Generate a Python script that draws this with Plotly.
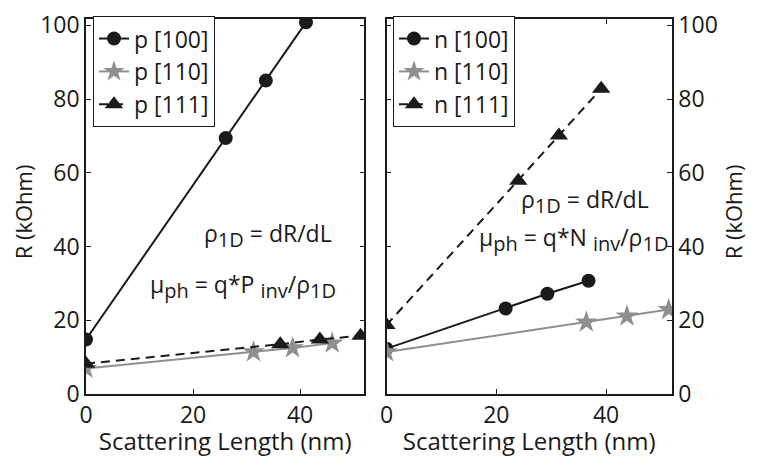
import plotly.graph_objects as go

# ---- data ----
p100_x = [0, 26.1, 33.6, 41.1]
p100_y = [14.8, 69.4, 85.0, 100.8]
p110_x = [0, 31.3, 38.6, 46.0]
p110_y = [6.9, 11.4, 12.5, 13.8]
p111_x = [0, 36.3, 43.7, 51.3]
p111_y = [8.2, 13.5, 14.8, 15.8]

n100_x = [0, 21.7, 29.3, 36.8]
n100_y = [12.3, 23.2, 27.2, 30.7]
n110_x = [0, 36.4, 43.8, 51.4]
n110_y = [11.4, 19.5, 21.1, 22.9]
n111_x = [0, 24.0, 31.4, 39.1]
n111_y = [18.7, 57.8, 70.1, 82.8]

x_ticks = [0, 20, 40]
y_ticks = [0, 20, 40, 60, 80, 100]

FONT = "Open Sans"
FS = 23
BLACK = "#1a1a1a"
GRAY = "#8f8f8f"

fig = go.Figure()

def add(x, y, name, color, symbol, dash, size, xa, ya, legend):
    fig.add_trace(go.Scatter(
        x=x, y=y, name=name, mode="lines+markers",
        line=dict(color=color, width=2, dash=dash),
        marker=dict(color=color, symbol=symbol, size=size, line=dict(width=0)),
        xaxis=xa, yaxis=ya, legend=legend))

add(p100_x, p100_y, "p [100]", BLACK, "circle", "solid", 14, "x", "y", "legend")
add(p110_x, p110_y, "p [110]", GRAY, "star", "solid", 17, "x", "y", "legend")
add(p111_x, p111_y, "p [111]", BLACK, "triangle-up", "9px,6px", 16, "x", "y", "legend")

add(n100_x, n100_y, "n [100]", BLACK, "circle", "solid", 14, "x2", "y2", "legend2")
add(n110_x, n110_y, "n [110]", GRAY, "star", "solid", 17, "x2", "y2", "legend2")
add(n111_x, n111_y, "n [111]", BLACK, "triangle-up", "9px,6px", 16, "x2", "y2", "legend2")

axis_common = dict(
    showgrid=False, zeroline=False, showline=True, linecolor=BLACK, linewidth=1.5,
    mirror="ticks", ticks="inside", ticklen=5, tickwidth=1, tickcolor=BLACK,
    tickfont=dict(family=FONT, size=FS, color=BLACK), ticklabeloverflow="allow",
)

W, H = 766, 457
ml, mr, mt, mb = 86, 94, 8, 63
pw = W - ml - mr
ph = H - mt - mb

XT = dict(text="Scattering Length (nm)", standoff=0, font=dict(family=FONT, size=24))

fig.update_layout(
    width=W, height=H,
    margin=dict(l=ml, r=mr, t=mt, b=mb),
    paper_bgcolor="white", plot_bgcolor="white",
    font=dict(family=FONT, size=FS, color=BLACK),
    xaxis=dict(domain=[0, 278.3 / pw], range=[0, 52], tickvals=x_ticks, title=XT, **axis_common),
    yaxis=dict(range=[0, 101.7], tickvals=y_ticks, anchor="x", **axis_common),
    xaxis2=dict(domain=[300.5 / pw, 1], range=[0, 52], tickvals=x_ticks, anchor="y2",
                title=XT, **axis_common),
    yaxis2=dict(range=[0, 101.7], tickvals=y_ticks, anchor="x2", side="right", **axis_common),
    legend=dict(x=(93 - ml) / pw, y=1 + 3 / ph, xanchor="left", yanchor="top",
                bordercolor=BLACK, borderwidth=1, bgcolor="white",
                font=dict(family=FONT, size=FS), tracegroupgap=0),
    legend2=dict(x=(393 - ml) / pw, y=1 + 3 / ph, xanchor="left", yanchor="top",
                 bordercolor=BLACK, borderwidth=1, bgcolor="white",
                 font=dict(family=FONT, size=FS), tracegroupgap=0),
    showlegend=True,
)

# y-axis titles placed as rotated text beside each panel (pixel centres -> paper)
for xpx in (23, 733):
    fig.add_annotation(x=(xpx - ml) / pw, y=1 - (207 - mt) / ph, xref="paper", yref="paper",
                       text="R (kOhm)", textangle=-90, showarrow=False,
                       xanchor="center", yanchor="middle",
                       font=dict(family=FONT, size=22, color=BLACK))

SUB = '<sub><span style="font-size:20px">%s</span></sub>'
ann_font = dict(family=FONT, size=FS, color=BLACK)
annots = [
    ("x", "y", 34.0, 43.0, "ρ" + SUB % "1D" + " = dR/dL"),
    ("x", "y", 29.4, 29.4, "μ" + SUB % "ph" + " = q*P " + SUB % "inv" + "/ρ" + SUB % "1D"),
    ("x2", "y2", 36.2, 52.3, "ρ" + SUB % "1D" + " = dR/dL"),
    ("x2", "y2", 34.0, 42.1, "μ" + SUB % "ph" + " = q*N " + SUB % "inv" + "/ρ" + SUB % "1D"),
]
for xr, yr, ax, ay, t in annots:
    fig.add_annotation(x=ax, y=ay, xref=xr, yref=yr, text=t, showarrow=False,
                       xanchor="center", yanchor="middle", font=ann_font)

fig.write_html("out.html")
